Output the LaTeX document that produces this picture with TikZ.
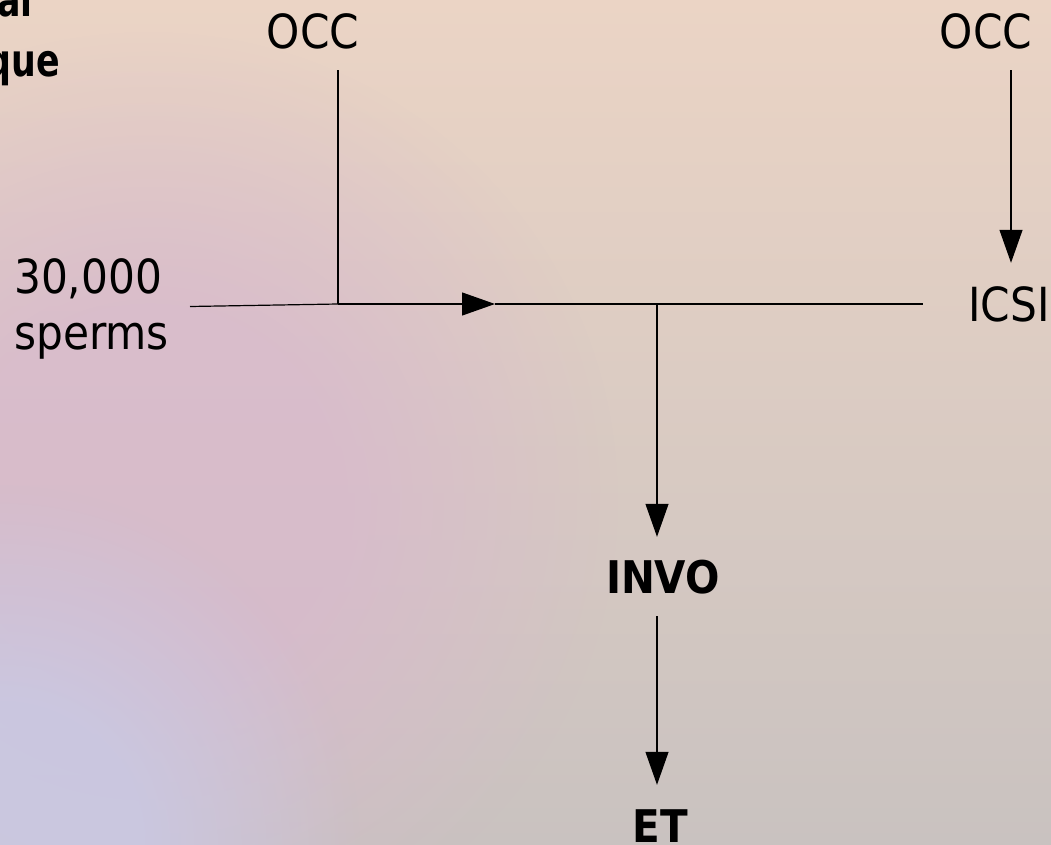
\documentclass[tikz,border=0pt]{standalone}
\usepackage{fontspec}
\setmainfont{DejaVu Sans Condensed}
\usetikzlibrary{arrows.meta,fadings}

\definecolor{bgtop}{RGB}{235,212,197}
\definecolor{bgmid}{RGB}{222,194,194}
\definecolor{bgbot}{RGB}{201,194,192}
\definecolor{blobpink}{RGB}{216,184,206}
\definecolor{blobblue}{RGB}{202,200,226}

% radial fading with a flat core, so the tinted patches stay broad
\pgfdeclareradialshading{flatcore}{\pgfpointorigin}{%
  color(0bp)=(pgftransparent!0); color(10bp)=(pgftransparent!0);
  color(25bp)=(pgftransparent!100); color(50bp)=(pgftransparent!100)}
\pgfdeclarefading{softblob}{\pgfuseshading{flatcore}}

\tikzset{
  lbl/.style={inner sep=0pt, font=\fontsize{47}{56}\selectfont,
              text height=34pt, text depth=0pt},
  blbl/.style={lbl, font=\fontsize{45}{56}\selectfont\bfseries},
  wire/.style={line width=1.2pt, draw=black},
  arr/.style={wire, -{Triangle[length=33pt,width=23pt]}},
}

\begin{document}
\begin{tikzpicture}[x=1pt,y=-1pt]
  \useasboundingbox (0,0) rectangle (1051,845);
  \clip (0,0) rectangle (1051,845);

  % soft gradient backdrop
  \shade[top color=bgtop, middle color=bgmid, bottom color=bgbot]
    (0,0) rectangle (1051,845);
  \fill[blobpink, path fading=softblob, fit fading=true, opacity=0.75]
    (150,500) circle (470);
  \fill[blobblue, path fading=softblob, fit fading=true, opacity=0.9]
    (0,845) circle (360);

  % partly hidden heading at the left edge
  \node[blbl, anchor=base east, xscale=0.86, transform shape] (headA) at (33,17) {al};
  \node[blbl, anchor=base east, xscale=0.86, transform shape] (headB) at (60,77) {que};

  % labels
  \node[lbl] (occL) at (313,32) {OCC};
  \node[lbl] (occR) at (986,32) {OCC};
  \node[lbl] (icsi) at (1009,304) {ICSI};
  \node[blbl] (invo) at (663,576) {INVO};
  \node[blbl] (et) at (660,825) {ET};
  \node[lbl, anchor=base west, align=left] (sp1) at (14,293) {30,000};
  \node[lbl, anchor=base west, align=left] (sp2) at (14,349) {sperms};

  % junction points of the main bar
  \coordinate (spIn) at (190,306.5);
  \coordinate (corner) at (338,304);
  \coordinate (tipH) at (495,304);
  \coordinate (split) at (657,304);
  \coordinate (barEnd) at (923,304);
  \coordinate (rightDrop) at (1011,0);

  % connectors
  \draw[wire] (spIn) -- (corner);
  \draw[wire, shorten <=21pt] (corner |- occL.south) -- (corner);
  \draw[arr] (corner) -- (tipH);
  \draw[wire] (tipH) -- (barEnd);
  \draw[arr, shorten >=22pt] (split) -- (split |- invo.north);
  \draw[arr, shorten <=23pt, shorten >=23pt] (split |- invo.south) -- (split |- et.north);
  \draw[arr, shorten <=21pt, shorten >=24pt] (rightDrop |- occR.south) -- (rightDrop |- icsi.north);
\end{tikzpicture}
\end{document}
